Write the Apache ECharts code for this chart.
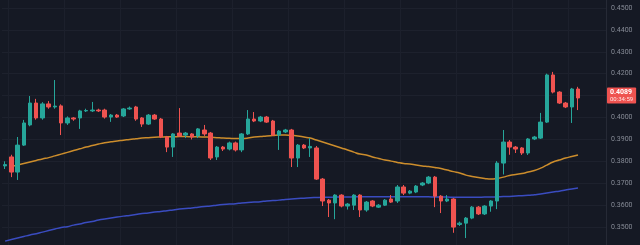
<!DOCTYPE html>
<html>
<head>
<meta charset="utf-8">
<script src="https://cdn.jsdelivr.net/npm/echarts/dist/echarts.min.js"></script>
<style>
html,body{margin:0;padding:0;background:#151924;width:640px;height:245px;overflow:hidden;position:relative;}
#c{position:absolute;left:0;top:-14px;width:640px;height:263px;}
</style>
</head>
<body>
<div id="c"></div>
<script>
const opens = [0.3779,0.3820,0.3751,0.3874,0.3966,0.4066,0.3998,0.4062,0.4048,0.4053,
0.3975,0.3998,0.3998,0.4030,0.4030,0.4034,0.4034,0.4002,0.4011,0.4007,
0.4039,0.4048,0.3998,0.3970,0.4011,0.3993,0.3911,0.3865,0.3929,0.3920,
0.3925,0.3916,0.3943,0.3929,0.3820,0.3865,0.3856,0.3884,0.3852,0.3925,
0.3993,0.3984,0.4002,0.3984,0.3920,0.3934,0.3943,0.3815,0.3874,0.3861,
0.3861,0.3719,0.3623,0.3610,0.3646,0.3596,0.3600,0.3646,0.3578,0.3619,
0.3591,0.3600,0.3628,0.3619,0.3683,0.3655,0.3660,0.3692,0.3701,0.3728,
0.3641,0.3619,0.3628,0.3512,0.3518,0.3541,0.3591,0.3560,0.3596,0.3619,
0.3792,0.3888,0.3865,0.3861,0.3838,0.3902,0.3906,0.3979,0.4194,0.4116,
0.4066,0.4048,0.4130];
const closes = [0.3785,0.3751,0.3874,0.3975,0.4066,0.3998,0.4062,0.4048,0.4052,0.3975,
0.3998,0.3993,0.4030,0.4032,0.4034,0.4030,0.4002,0.4011,0.4002,0.4039,
0.4043,0.3993,0.3970,0.4011,0.3993,0.3911,0.3865,0.3925,0.3916,0.3929,
0.3911,0.3948,0.3925,0.3815,0.3865,0.3856,0.3884,0.3852,0.3925,0.3993,
0.3984,0.4002,0.3979,0.3920,0.3938,0.3943,0.3815,0.3874,0.3861,0.3868,
0.3719,0.3619,0.3610,0.3646,0.3596,0.3605,0.3646,0.3578,0.3614,0.3596,
0.3600,0.3623,0.3614,0.3683,0.3655,0.3664,0.3687,0.3701,0.3728,0.3641,
0.3619,0.3628,0.3500,0.3518,0.3541,0.3591,0.3560,0.3596,0.3619,0.3792,
0.3888,0.3865,0.3856,0.3838,0.3902,0.3911,0.3979,0.4194,0.4116,0.4066,
0.4048,0.4130,0.4089];
const lows = [0.3765,0.3728,0.3715,0.3870,0.3960,0.3990,0.3990,0.4040,0.4040,0.3920,
0.3966,0.3985,0.3948,0.4025,0.4025,0.4025,0.3995,0.3980,0.3998,0.4002,
0.4035,0.3985,0.3957,0.3966,0.3989,0.3906,0.3842,0.3820,0.3911,0.3906,
0.3900,0.3906,0.3916,0.3806,0.3806,0.3847,0.3850,0.3845,0.3842,0.3920,
0.3979,0.3979,0.3975,0.3916,0.3852,0.3929,0.3774,0.3774,0.3856,0.3820,
0.3715,0.3596,0.3546,0.3536,0.3590,0.3580,0.3578,0.3546,0.3570,0.3591,
0.3587,0.3596,0.3610,0.3610,0.3646,0.3650,0.3655,0.3687,0.3696,0.3591,
0.3564,0.3614,0.3474,0.3505,0.3450,0.3536,0.3555,0.3555,0.3570,0.3582,
0.3740,0.3830,0.3838,0.3829,0.3829,0.3897,0.3902,0.3975,0.4110,0.4062,
0.4043,0.3975,0.4034];
const highs = [0.3800,0.3830,0.3911,0.3989,0.4098,0.4085,0.4070,0.4075,0.4171,0.4060,
0.4005,0.4002,0.4035,0.4040,0.4071,0.4040,0.4040,0.4016,0.4016,0.4043,
0.4050,0.4053,0.4002,0.4016,0.4016,0.3998,0.3916,0.3929,0.4043,0.3934,
0.3929,0.3952,0.3966,0.3934,0.3870,0.3870,0.3890,0.3890,0.3929,0.4034,
0.4025,0.4007,0.4007,0.3989,0.3943,0.3948,0.3948,0.3879,0.3879,0.3906,
0.3870,0.3724,0.3628,0.3650,0.3650,0.3610,0.3650,0.3650,0.3619,0.3623,
0.3605,0.3628,0.3646,0.3692,0.3692,0.3669,0.3692,0.3705,0.3733,0.3733,
0.3646,0.3646,0.3632,0.3525,0.3546,0.3596,0.3596,0.3600,0.3623,0.3801,
0.3943,0.3897,0.3870,0.3865,0.3906,0.3916,0.4021,0.4200,0.4208,0.4120,
0.4071,0.4135,0.4140];
const maSlow = [null,0.3776,0.3783,0.3790,0.3797,0.3804,0.3811,0.3817,0.3825,0.3833,
0.3841,0.3849,0.3857,0.3865,0.3872,0.3879,0.3885,0.3889,0.3893,0.3896,
0.3900,0.3903,0.3906,0.3908,0.3910,0.3911,0.3912,0.3912,0.3913,0.3913,
0.3912,0.3912,0.3911,0.3910,0.3908,0.3906,0.3905,0.3904,0.3904,0.3906,
0.3911,0.3913,0.3916,0.3918,0.3920,0.3920,0.3918,0.3916,0.3911,0.3906,
0.3897,0.3888,0.3879,0.3870,0.3861,0.3852,0.3842,0.3833,0.3829,0.3820,
0.3813,0.3806,0.3801,0.3795,0.3790,0.3788,0.3783,0.3779,0.3776,0.3772,
0.3767,0.3760,0.3753,0.3747,0.3737,0.3731,0.3726,0.3722,0.3719,0.3722,
0.3728,0.3735,0.3740,0.3744,0.3751,0.3758,0.3769,0.3783,0.3797,0.3806,
0.3815,0.3822,0.3829];
const maLong = [0.3436,0.3443,0.3450,0.3457,0.3464,0.3470,0.3477,0.3484,0.3491,0.3498,
0.3502,0.3509,0.3514,0.3521,0.3525,0.3532,0.3537,0.3541,0.3546,0.3550,
0.3553,0.3557,0.3562,0.3564,0.3569,0.3571,0.3575,0.3578,0.3582,0.3585,
0.3587,0.3591,0.3594,0.3596,0.3600,0.3603,0.3605,0.3607,0.3610,0.3612,
0.3614,0.3616,0.3619,0.3621,0.3623,0.3626,0.3628,0.3630,0.3632,0.3634,
0.3635,0.3636,0.3636,0.3637,0.3637,0.3637,0.3638,0.3638,0.3638,0.3638,
0.3638,0.3638,0.3638,0.3638,0.3638,0.3638,0.3638,0.3638,0.3638,0.3637,
0.3637,0.3637,0.3636,0.3636,0.3636,0.3636,0.3636,0.3637,0.3637,0.3638,
0.3639,0.3640,0.3642,0.3643,0.3645,0.3648,0.3651,0.3655,0.3660,0.3664,
0.3669,0.3674,0.3678];
const rightPad = 4;
const lastPrice = 0.4089;
const countdown = '00:34:59';

const total = opens.length + rightPad;
const categories = [];
for (let i = 0; i < total; i++) categories.push(String(i));
const candleData = opens.map((o, i) => [o, closes[i], lows[i], highs[i]]);
for (let i = 0; i < rightPad; i++) candleData.push('-');

const chart = echarts.init(document.getElementById('c'), null, {renderer: 'canvas'});
chart.setOption({
  animation: false,
  backgroundColor: '#151924',
  grid: {left: 2, right: 34, top: 0, bottom: 0, containLabel: false, outerBoundsMode: 'none'},
  xAxis: {
    type: 'category', data: categories, boundaryGap: true,
    axisLine: {show: false}, axisTick: {show: false}, axisLabel: {show: false},
    splitLine: {show: true, interval: (idx) => idx % 9 === 1, lineStyle: {color: '#1c202c', width: 1}}
  },
  yAxis: {
    type: 'value', position: 'right', min: 0.34, max: 0.46, interval: 0.01,
    axisLine: {show: true, lineStyle: {color: '#262a36'}},
    axisTick: {show: false},
    axisLabel: {margin: 5, fontSize: 7, color: '#868b96', fontFamily: 'Roboto, sans-serif',
      formatter: (v) => v.toFixed(4)},
    splitLine: {show: true, lineStyle: {color: '#1d212d', width: 1}}
  },
  series: [
    {
      type: 'line', data: maLong, showSymbol: false, smooth: true, z: 3,
      lineStyle: {color: '#3a4cc0', width: 1.5}
    },
    {
      type: 'line', data: maSlow, showSymbol: false, smooth: true, z: 3,
      lineStyle: {color: '#cc8d2c', width: 1.5}
    },
    {
      type: 'candlestick', data: candleData, barWidth: 4, z: 4,
      itemStyle: {color: '#26a69a', color0: '#ef5350', borderColor: '#26a69a', borderColor0: '#ef5350', borderWidth: 1},
      markLine: {
        silent: true, symbol: ['none', 'none'], animation: false,
        lineStyle: {color: 'rgba(0,0,0,0)', width: 0},
        data: [{yAxis: lastPrice}],
        label: {
          show: true, position: 'end', distance: 1,
          formatter: () => '{a|' + lastPrice.toFixed(4) + '}\n{b|' + countdown + '}',
          backgroundColor: '#ef5350', padding: [1, 3, 1, 3], borderRadius: 1,
          rich: {
            a: {fontSize: 7, fontWeight: 'bold', color: '#ffffff', lineHeight: 7, fontFamily: 'Roboto, sans-serif'},
            b: {fontSize: 6, color: '#ffe3e3', lineHeight: 7, fontFamily: 'Roboto, sans-serif'}
          }
        }
      }
    }
  ]
});
</script>
</body>
</html>
